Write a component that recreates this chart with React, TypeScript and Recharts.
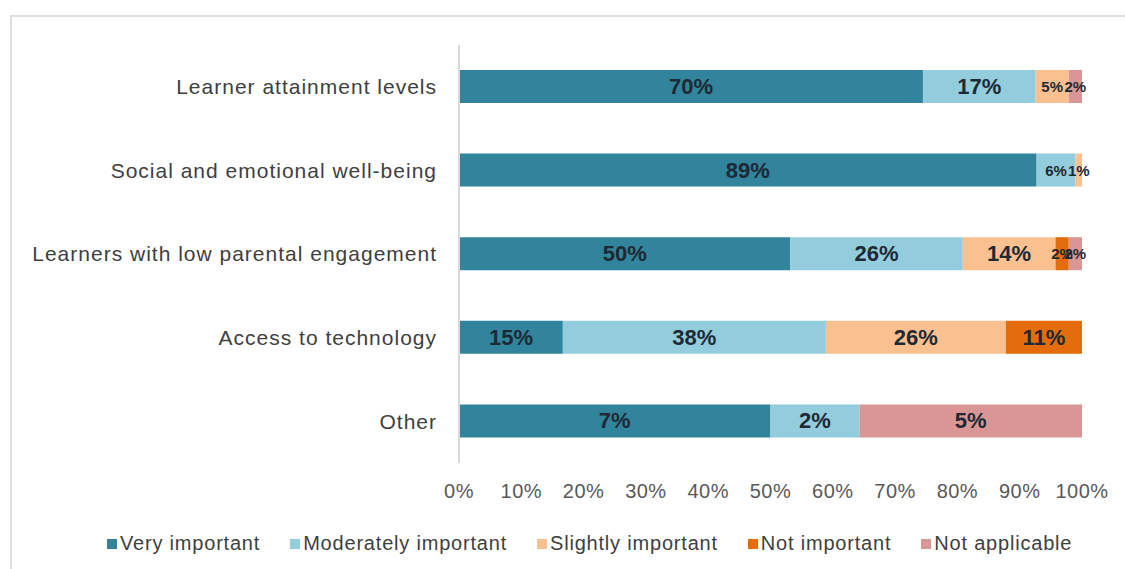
import React from "react";
import { BarChart, Bar, XAxis, YAxis, LabelList } from "recharts";

const categories = [
  "Learner attainment levels",
  "Social and emotional well-being",
  "Learners with low parental engagement",
  "Access to technology",
  "Other",
];
const veryImportant = [70, 89, 50, 15, 7];
const moderatelyImportant = [17, 6, 26, 38, 2];
const slightlyImportant = [5, 1, 14, 26, 0];
const notImportant = [0, 0, 2, 11, 0];
const notApplicable = [2, 0, 2, 0, 5];
const xTicks = [0, 0.1, 0.2, 0.3, 0.4, 0.5, 0.6, 0.7, 0.8, 0.9, 1];

const series = [
  { key: "very", name: "Very important", color: "#31849B", values: veryImportant },
  { key: "moderate", name: "Moderately important", color: "#93CDDD", values: moderatelyImportant },
  { key: "slight", name: "Slightly important", color: "#FAC08F", values: slightlyImportant },
  { key: "not", name: "Not important", color: "#E46C0A", values: notImportant },
  { key: "na", name: "Not applicable", color: "#D99694", values: notApplicable },
];

const data = categories.map((name, i) => {
  const row: Record<string, string | number> = { name };
  series.forEach((s) => {
    row[s.key] = s.values[i];
  });
  return row;
});

const FONT = "'Liberation Sans', Arial, sans-serif";

// small segments get a smaller label, like the source chart
const SegmentLabel = (props: any) => {
  const { x, y, width, height, value } = props;
  if (!value) return null;
  const small = width < 45;
  return (
    <text
      x={x + width / 2}
      y={y + height / 2}
      textAnchor="middle"
      dominantBaseline="central"
      fontFamily={FONT}
      fontWeight={700}
      fontSize={small ? 15 : 22}
      fill="#1e2933"
    >
      {value}%
    </text>
  );
};

const App: React.FC = () => {
  return (
    <div
      style={{
        position: "absolute",
        left: 0,
        top: 0,
        width: 1125,
        height: 569,
        background: "#fff",
        fontFamily: FONT,
        overflow: "hidden",
      }}
    >
      <div
        style={{
          position: "absolute",
          left: 10,
          top: 15,
          width: 1125,
          height: 569,
          borderTop: "2px solid #dedede",
          borderLeft: "2px solid #dedede",
        }}
      />
      <BarChart
        width={1125}
        height={569}
        data={data}
        layout="vertical"
        stackOffset="expand"
        barSize={33}
        margin={{ top: 45, right: 43, left: 0, bottom: 76 }}
        style={{ position: "absolute", left: 0, top: 0 }}
      >
        <XAxis
          type="number"
          domain={[0, 1]}
          ticks={xTicks}
          tickFormatter={(v: number) => `${Math.round(v * 100)}%`}
          axisLine={false}
          tickLine={false}
          tickSize={0}
          tickMargin={21}
          interval={0}
          tick={{ fontSize: 20, fill: "#595959", fontFamily: FONT, letterSpacing: 0.5 }}
        />
        <YAxis
          type="category"
          dataKey="name"
          width={459}
          axisLine={{ stroke: "#d9d9d9", strokeWidth: 2 }}
          tickLine={false}
          tickSize={0}
          tickMargin={22}
          interval={0}
          tick={{ fontSize: 21, fill: "#404040", fontFamily: FONT, letterSpacing: 1 }}
        />
        {series.map((s) => (
          <Bar
            key={s.key}
            dataKey={s.key}
            name={s.name}
            stackId="a"
            fill={s.color}
            isAnimationActive={false}
          >
            <LabelList dataKey={s.key} content={SegmentLabel} />
          </Bar>
        ))}
      </BarChart>
      <div
        style={{
          position: "absolute",
          left: 107,
          top: 532,
          display: "flex",
          alignItems: "center",
          fontSize: 20,
          letterSpacing: 0.8,
          color: "#404040",
          whiteSpace: "nowrap",
        }}
      >
        {series.map((s) => (
          <div key={s.key} style={{ display: "flex", alignItems: "center", marginRight: 30 }}>
            <span
              style={{
                display: "inline-block",
                width: 10,
                height: 10,
                background: s.color,
                marginRight: 3,
              }}
            />
            <span>{s.name}</span>
          </div>
        ))}
      </div>
    </div>
  );
};

export default App;
